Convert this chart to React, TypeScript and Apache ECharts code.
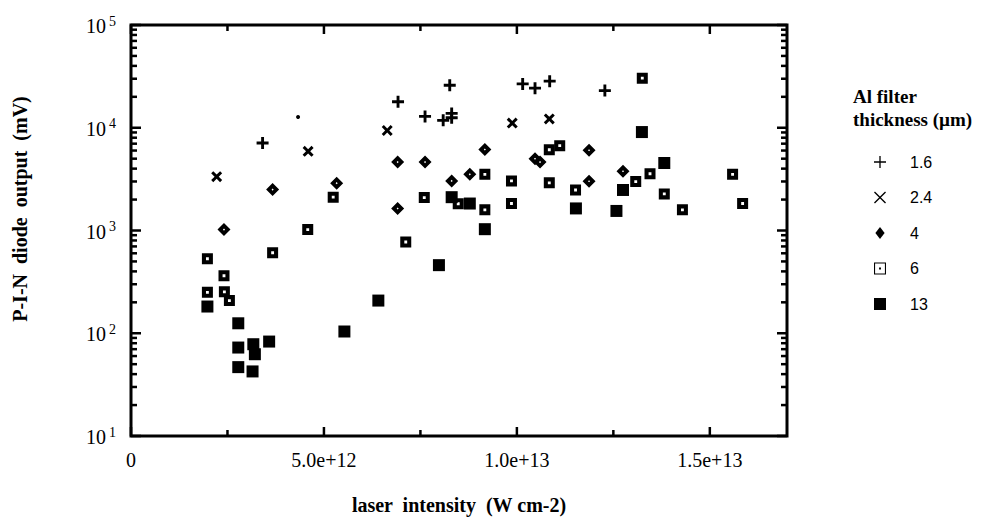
import React, { useEffect, useRef } from 'react';
import * as echarts from 'echarts';

// ---------- data (x in units of 1e12 W cm-2, y in mV) ----------
const X_MAX = 17; // 1.7e13
const X_TICK_LABELS = ['0', '5.0e+12', '1.0e+13', '1.5e+13'];
const X_MAJOR_TICKS = [0, 5, 10, 15];
const X_MINOR_TICKS = [2.5, 7.5, 12.5];
const Y_MAJOR_TICKS = [10, 100, 1000, 10000, 100000];
const Y_MINOR_TICKS = [
  20, 30, 40, 50, 60, 70, 80, 90,
  200, 300, 400, 500, 600, 700, 800, 900,
  2000, 3000, 4000, 5000, 6000, 7000, 8000, 9000,
  20000, 30000, 40000, 50000, 60000, 70000, 80000, 90000,
];

const SERIES_NAMES = ['1.6', '2.4', '4', '6', '13'];

const S16_X = [3.41, 4.33, 6.92, 7.62, 8.09, 8.31, 8.31, 8.26, 10.15, 10.47, 10.85, 12.28];
const S16_Y = [7100, 12700, 17900, 12900, 11800, 13800, 12500, 25900, 26700, 24300, 28400, 23000];

const S24_X = [2.22, 4.59, 6.64, 9.88, 10.84];
const S24_Y = [3340, 5890, 9400, 11100, 12200];

const S4_X = [2.41, 3.67, 5.33, 6.91, 7.62, 6.91, 8.31, 8.78, 9.17, 10.47, 10.6, 11.87, 11.87, 12.75];
const S4_Y = [1020, 2500, 2890, 4630, 4630, 1640, 3040, 3520, 6150, 5000, 4630, 6030, 3010, 3770];

const S6_X = [1.98, 1.98, 2.42, 2.41, 2.55, 3.67, 4.58, 5.24, 7.12, 7.6, 8.48, 9.17, 9.17, 9.86, 9.86,
  10.84, 11.11, 10.84, 11.52, 13.08, 13.45, 13.82, 14.29, 15.59, 15.85, 13.25];
const S6_Y = [531, 250, 253, 363, 208, 607, 1020, 2110, 773, 2090, 1820, 3520, 1590, 3040, 1830,
  6110, 6690, 2910, 2480, 2990, 3570, 2270, 1590, 3520, 1830, 30400];

const S13_X = [1.98, 2.78, 2.78, 2.78, 3.17, 3.21, 3.15, 3.58, 5.53, 6.41, 7.98, 8.31, 8.78, 9.17,
  11.53, 12.58, 12.75, 13.82, 13.24];
const S13_Y = [182, 125, 72.6, 46.8, 78.2, 62.5, 42.5, 83, 104, 208, 460, 2110, 1830, 1030,
  1640, 1550, 2480, 4540, 9080];

// ---------- symbols ----------
const PLUS_BOLD = 'path://M3.8,0H6.2V3.8H10V6.2H6.2V10H3.8V6.2H0V3.8H3.8Z';
const X_BOLD = 'path://M0,1.9L1.9,0L5,3.1L8.1,0L10,1.9L6.9,5L10,8.1L8.1,10L5,6.9L1.9,10L0,8.1L3.1,5Z';
const DIAMOND_DOT = 'path://M5,0L10,5L5,10L0,5Z M5,4.2L4.2,5L5,5.8L5.8,5Z';
const SQUARE_DOT = 'path://M0,0H10V10H0Z M3.7,3.7V6.3H6.3V3.7Z';

const PLUS_THIN = 'path://M4.45,0H5.55V4.45H10V5.55H5.55V10H4.45V5.55H0V4.45H4.45Z';
const X_THIN = 'path://M0,0.8L0.8,0L5,4.2L9.2,0L10,0.8L5.8,5L10,9.2L9.2,10L5,5.8L0.8,10L0,9.2L4.2,5Z';
const DIAMOND_SOLID = 'path://M5,0L10,6.5L5,13L0,6.5Z';
const SQUARE_OUTLINE_DOT = 'path://M0,0H10V10H0Z M0.9,0.9V9.1H9.1V0.9Z M4.2,4.2H5.8V5.8H4.2Z';
const SQUARE_SOLID = 'path://M0,0H10V10H0Z';

const SERIF = "'Liberation Serif', 'Times New Roman', serif";
const SANS = "'Liberation Sans', Arial, Helvetica, sans-serif";

const pair = (xs: number[], ys: number[]) => xs.map((x, i) => [x * 1e12, ys[i]]);

// style constants (not data)
const FRAME_W = 3;
const TICK_W = 2.5;
const MAJOR_LEN = 10;
const MINOR_LEN = 6;

export default function App() {
  const ref = useRef<HTMLDivElement>(null);

  useEffect(() => {
    if (!ref.current) return;
    const chart = echarts.init(ref.current, null, { renderer: 'svg' });

    const s16 = pair(S16_X, S16_Y).map((v, i) =>
      i === 1 ? { value: v, symbol: 'circle', symbolSize: 4 } : v
    );

    const xMajor = X_MAJOR_TICKS.map((v) => [v * 1e12, 10]);
    const xMinor = X_MINOR_TICKS.map((v) => [v * 1e12, 10]);
    const yMajor = Y_MAJOR_TICKS.map((v) => [0, v]);
    const yMinor = Y_MINOR_TICKS.map((v) => [0, v]);

    const hiddenAxis = { axisLine: { show: false }, axisTick: { show: false }, splitLine: { show: false } };
    const dot = { color: '#000', opacity: 1 };

    const xTickSeries = (name: string, data: number[][], len: number) => ({
      name, type: 'custom', silent: true, clip: false, z: 5, data,
      renderItem: (_p: any, api: any) => {
        const x = api.value(0);
        const b = api.coord([x, 10]);
        const t = api.coord([x, 100000]);
        return {
          type: 'group', children: [
            { type: 'rect', shape: { x: b[0] - TICK_W / 2, y: b[1] - len, width: TICK_W, height: len }, style: { fill: '#000' } },
            { type: 'rect', shape: { x: t[0] - TICK_W / 2, y: t[1], width: TICK_W, height: len }, style: { fill: '#000' } },
          ],
        };
      },
    });
    const yTickSeries = (name: string, data: number[][], len: number) => ({
      name, type: 'custom', silent: true, clip: false, z: 5, data,
      renderItem: (_p: any, api: any) => {
        const y = api.value(1);
        const l = api.coord([0, y]);
        const r = api.coord([X_MAX * 1e12, y]);
        return {
          type: 'group', children: [
            { type: 'rect', shape: { x: l[0], y: l[1] - TICK_W / 2, width: len, height: TICK_W }, style: { fill: '#000' } },
            { type: 'rect', shape: { x: r[0] - len, y: r[1] - TICK_W / 2, width: len, height: TICK_W }, style: { fill: '#000' } },
          ],
        };
      },
    });

    const option: any = {
      animation: false,
      backgroundColor: '#fff',
      grid: { left: 131, top: 25, width: 656, height: 411, show: true, borderColor: '#000', borderWidth: FRAME_W, backgroundColor: 'transparent' },
      xAxis: [
        {
          type: 'value', position: 'bottom', min: 0, max: X_MAX * 1e12, interval: 5e12,
          ...hiddenAxis,
          axisLabel: {
            margin: 14, color: '#000', fontFamily: SERIF, fontSize: 20,
            formatter: (v: number) => {
              const k = v / 5e12;
              return Math.abs(k - Math.round(k)) < 1e-6 ? X_TICK_LABELS[Math.round(k)] || '' : '';
            },
          },
        },
      ],
      yAxis: [
        {
          type: 'log', logBase: 10, min: 10, max: 100000, splitNumber: 4, position: 'left',
          ...hiddenAxis,
          axisLabel: {
            margin: 15, color: '#000',
            formatter: (v: number) => `{b|10}{s|${Math.round(Math.log10(v))}}`,
            rich: {
              b: { fontFamily: SERIF, fontSize: 20, lineHeight: 22, verticalAlign: 'bottom', color: '#000' },
              s: { fontFamily: SERIF, fontSize: 14, lineHeight: 14, verticalAlign: 'top', padding: [0, 0, 4, 3], color: '#000' },
            },
          },
        },
      ],
      legend: {
        orient: 'vertical', left: 874, top: 154, padding: 0,
        itemWidth: 12, itemHeight: 12, itemGap: 19.5, selectedMode: false,
        symbolKeepAspect: true,
        textStyle: { fontFamily: SANS, fontSize: 16, color: '#000', padding: [0, 0, 0, 19] },
        data: [
          { name: '1.6', icon: PLUS_THIN },
          { name: '2.4', icon: X_THIN },
          { name: '4', icon: DIAMOND_SOLID },
          { name: '6', icon: SQUARE_OUTLINE_DOT },
          { name: '13', icon: SQUARE_SOLID },
        ],
      },
      graphic: [
        { type: 'text', left: 853, top: 87, style: { text: 'Al filter', fontFamily: SERIF, fontWeight: 'bold', fontSize: 19, fill: '#000' } },
        { type: 'text', left: 853, top: 110, style: { text: 'thickness (µm)', fontFamily: SERIF, fontWeight: 'bold', fontSize: 19, fill: '#000' } },
        {
          type: 'text', x: 20, y: 209, rotation: Math.PI / 2,
          style: { text: 'P-I-N  diode  output  (mV)', fontFamily: SERIF, fontWeight: 'bold', fontSize: 20, fill: '#000', align: 'center', verticalAlign: 'middle' },
        },
        {
          type: 'text', x: 459, y: 505,
          style: { text: 'laser  intensity  (W cm-2)', fontFamily: SERIF, fontWeight: 'bold', fontSize: 20, fill: '#000', align: 'center', verticalAlign: 'middle' },
        },
      ],
      series: [
        { name: SERIES_NAMES[0], type: 'scatter', symbol: PLUS_BOLD, symbolSize: 12, itemStyle: dot, data: s16 },
        { name: SERIES_NAMES[1], type: 'scatter', symbol: X_BOLD, symbolSize: 11, itemStyle: dot, data: pair(S24_X, S24_Y) },
        { name: SERIES_NAMES[2], type: 'scatter', symbol: DIAMOND_DOT, symbolSize: 13, itemStyle: dot, data: pair(S4_X, S4_Y) },
        { name: SERIES_NAMES[3], type: 'scatter', symbol: SQUARE_DOT, symbolSize: 11, itemStyle: dot, data: pair(S6_X, S6_Y) },
        { name: SERIES_NAMES[4], type: 'scatter', symbol: 'rect', symbolSize: 12, itemStyle: dot, data: pair(S13_X, S13_Y) },
        xTickSeries('xMajorTicks', xMajor, MAJOR_LEN - 1),
        xTickSeries('xMinorTicks', xMinor, MINOR_LEN),
        yTickSeries('yMajorTicks', yMajor, MAJOR_LEN),
        yTickSeries('yMinorTicks', yMinor, MINOR_LEN),
      ],
    };

    chart.setOption(option);
    return () => chart.dispose();
  }, []);

  return (
    <div
      ref={ref}
      style={{ position: 'fixed', left: 0, top: 0, width: 985, height: 529, background: '#fff' }}
    />
  );
}
